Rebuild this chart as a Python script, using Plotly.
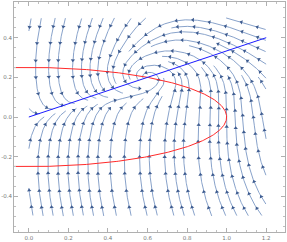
import math
import numpy as np
import plotly.graph_objects as go

# ---- axes / ticks ----
x_range = [-0.075, 1.295]
y_range = [-0.58, 0.58]
x_tick_vals = [0.0, 0.2, 0.4, 0.6, 0.8, 1.0, 1.2]
x_tick_text = ["0.0", "0.2", "0.4", "0.6", "0.8", "1.0", "1.2"]
y_tick_vals = [-0.4, -0.2, 0.0, 0.2, 0.4]
y_tick_text = ["-0.4", "-0.2", "0.0", "0.2", "0.4"]

# ---- stream-plot region and system parameters ----
stream_x = [0.0, 1.2]
stream_y = [-0.5, 0.5]
focus = [0.6, 0.2]
ellipse_axes = [1.0, 0.25]      # x-nullcline: (x/a)^2 + (y/b)^2 = 1
line_slope = 1.0 / 3.0          # y-nullcline near left: y = x/3
line_x = [0.0, 1.2]


def sig(t):
    return 1.0 / (1.0 + math.exp(-t))


def field(x, y):
    a, b = ellipse_axes
    u = 1.0 - (x / a) ** 2 - (y / b) ** 2
    fx, fy = focus
    S = sig((x - fx) / 0.15) * sig((y - fy) / 0.1)
    r2 = ((x - fx) / 1.6) ** 2 + (y - fy) ** 2
    w = math.exp(-r2 / 0.03)
    bb = (1.0 / line_slope) * (1.0 - S) * (1.0 - 0.85 * w)
    vcore = (x - fx) - bb * (y - fy)
    gfar = 8.0 * (1.5 - x) / 1.2
    G = w * 3.0 + (1.0 - w) * gfar
    return u, G * vcore


# ---- evenly spaced streamlines ----
dsep = 0.05
dtest = 0.5 * dsep
h = 0.004
cell = dsep
grid = {}


def add_pts(pts):
    for (px, py) in pts:
        key = (int(math.floor(px / cell)), int(math.floor(py / cell)))
        grid.setdefault(key, []).append((px, py))


def near(px, py, d):
    i = int(math.floor(px / cell))
    j = int(math.floor(py / cell))
    r = int(math.ceil(d / cell))
    d2 = d * d
    for di in range(-r, r + 1):
        for dj in range(-r, r + 1):
            for (qx, qy) in grid.get((i + di, j + dj), ()):
                if (qx - px) ** 2 + (qy - py) ** 2 < d2:
                    return True
    return False


def inside(px, py):
    return stream_x[0] <= px <= stream_x[1] and stream_y[0] <= py <= stream_y[1]


def dirn(px, py, sgn):
    u, v = field(px, py)
    n = math.hypot(u, v)
    if n < 1e-9:
        return None
    return sgn * u / n, sgn * v / n


def trace(x0, y0, sgn):
    pts = []
    x, y = x0, y0
    for _ in range(1500):
        d1 = dirn(x, y, sgn)
        if d1 is None:
            break
        mx, my = x + 0.5 * h * d1[0], y + 0.5 * h * d1[1]
        d2 = dirn(mx, my, sgn)
        if d2 is None:
            break
        nx, ny = x + h * d2[0], y + h * d2[1]
        if not inside(nx, ny):
            break
        if near(nx, ny, dtest):
            break
        if (nx - focus[0]) ** 2 + (ny - focus[1]) ** 2 < 0.02 ** 2:
            break
        pts.append((nx, ny))
        x, y = nx, ny
    return pts


def arclen(line):
    s = [0.0]
    for k in range(1, len(line)):
        s.append(s[-1] + math.hypot(line[k][0] - line[k - 1][0], line[k][1] - line[k - 1][1]))
    return s


lines = []
queue = []


def try_seed(sx, sy):
    if not inside(sx, sy) or near(sx, sy, dsep * 0.95):
        return
    back = trace(sx, sy, -1)
    fwd = trace(sx, sy, 1)
    line = back[::-1] + [(sx, sy)] + fwd
    s = arclen(line)
    if s[-1] < 0.05:
        return
    add_pts(line)
    lines.append(line)
    for k in range(0, len(line), 4):
        d = dirn(line[k][0], line[k][1], 1)
        if d is None:
            continue
        nxv, nyv = -d[1], d[0]
        queue.append((line[k][0] + nxv * dsep, line[k][1] + nyv * dsep))
        queue.append((line[k][0] - nxv * dsep, line[k][1] - nyv * dsep))


def run_queue():
    while queue:
        sx, sy = queue.pop(0)
        try_seed(sx, sy)


queue.append((0.3, -0.3))
run_queue()
for gy in np.arange(stream_y[0] + 0.01, stream_y[1], dsep / 2):
    for gx in np.arange(stream_x[0] + 0.01, stream_x[1], dsep / 2):
        queue.append((float(gx), float(gy)))
        run_queue()

# ---- build traces ----
lx, ly = [], []
ax_, ay_, ang = [], [], []
arrow_gap = 0.085
for line in lines:
    for (px, py) in line:
        lx.append(px)
        ly.append(py)
    lx.append(None)
    ly.append(None)
    s = arclen(line)
    L = s[-1]
    targets = []
    k = 0
    while arrow_gap * (k + 0.5) < L - 0.01:
        targets.append(arrow_gap * (k + 0.5))
        k += 1
    if not targets:
        targets = [L / 2]
    idx = 0
    for t in targets:
        while idx < len(s) - 1 and s[idx] < t:
            idx += 1
        px, py = line[idx]
        d = dirn(px, py, 1)
        if d is None:
            continue
        ax_.append(px)
        ay_.append(py)
        ang.append(math.degrees(math.atan2(d[0], d[1])))

fig = go.Figure()
fig.add_trace(go.Scatter(x=lx, y=ly, mode="lines",
                         line=dict(color="#7a97c4", width=0.9),
                         hoverinfo="skip", showlegend=False))
fig.add_trace(go.Scatter(x=ax_, y=ay_, mode="markers",
                         marker=dict(symbol="triangle-up", size=3.8, angle=ang,
                                     color="#3e5c90", line=dict(width=0)),
                         hoverinfo="skip", showlegend=False))

# x-nullcline ellipse
th0 = math.acos(x_range[0] / ellipse_axes[0])
th = np.linspace(th0, -th0, 400)
ex = ellipse_axes[0] * np.cos(th)
ey = ellipse_axes[1] * np.sin(th)
fig.add_trace(go.Scatter(x=ex, y=ey, mode="lines",
                         line=dict(color="#ff2a2a", width=1.0),
                         hoverinfo="skip", showlegend=False))
# line y = x/3
bx = np.array(line_x)
fig.add_trace(go.Scatter(x=bx, y=line_slope * bx, mode="lines",
                         line=dict(color="#1a1aff", width=1.0),
                         hoverinfo="skip", showlegend=False))

tick_font = dict(family="DejaVu Sans", size=5.5, color="#777777")
axis_common = dict(showgrid=False, zeroline=False, showline=True, mirror="allticks",
                   linecolor="#b0b0b0", linewidth=1, ticks="inside", ticklen=4,
                   tickcolor="#b0b0b0", tickwidth=0.8, tickfont=tick_font)
fig.update_xaxes(range=x_range, tickvals=x_tick_vals, ticktext=x_tick_text,
                 minor=dict(ticks="inside", ticklen=2, dtick=0.05, tick0=0,
                            tickcolor="#c0c0c0", tickwidth=0.6),
                 **axis_common)
fig.update_yaxes(range=y_range, tickvals=y_tick_vals, ticktext=y_tick_text,
                 minor=dict(ticks="inside", ticklen=2, dtick=0.05, tick0=0,
                            tickcolor="#c0c0c0", tickwidth=0.6),
                 **axis_common)
fig.update_layout(width=287, height=242, margin=dict(l=12, r=1, t=1, b=9),
                  paper_bgcolor="white", plot_bgcolor="white")
fig.write_html("out.html", config={"displayModeBar": False},
               post_script="document.body.style.margin='0';document.body.style.padding='0';")
